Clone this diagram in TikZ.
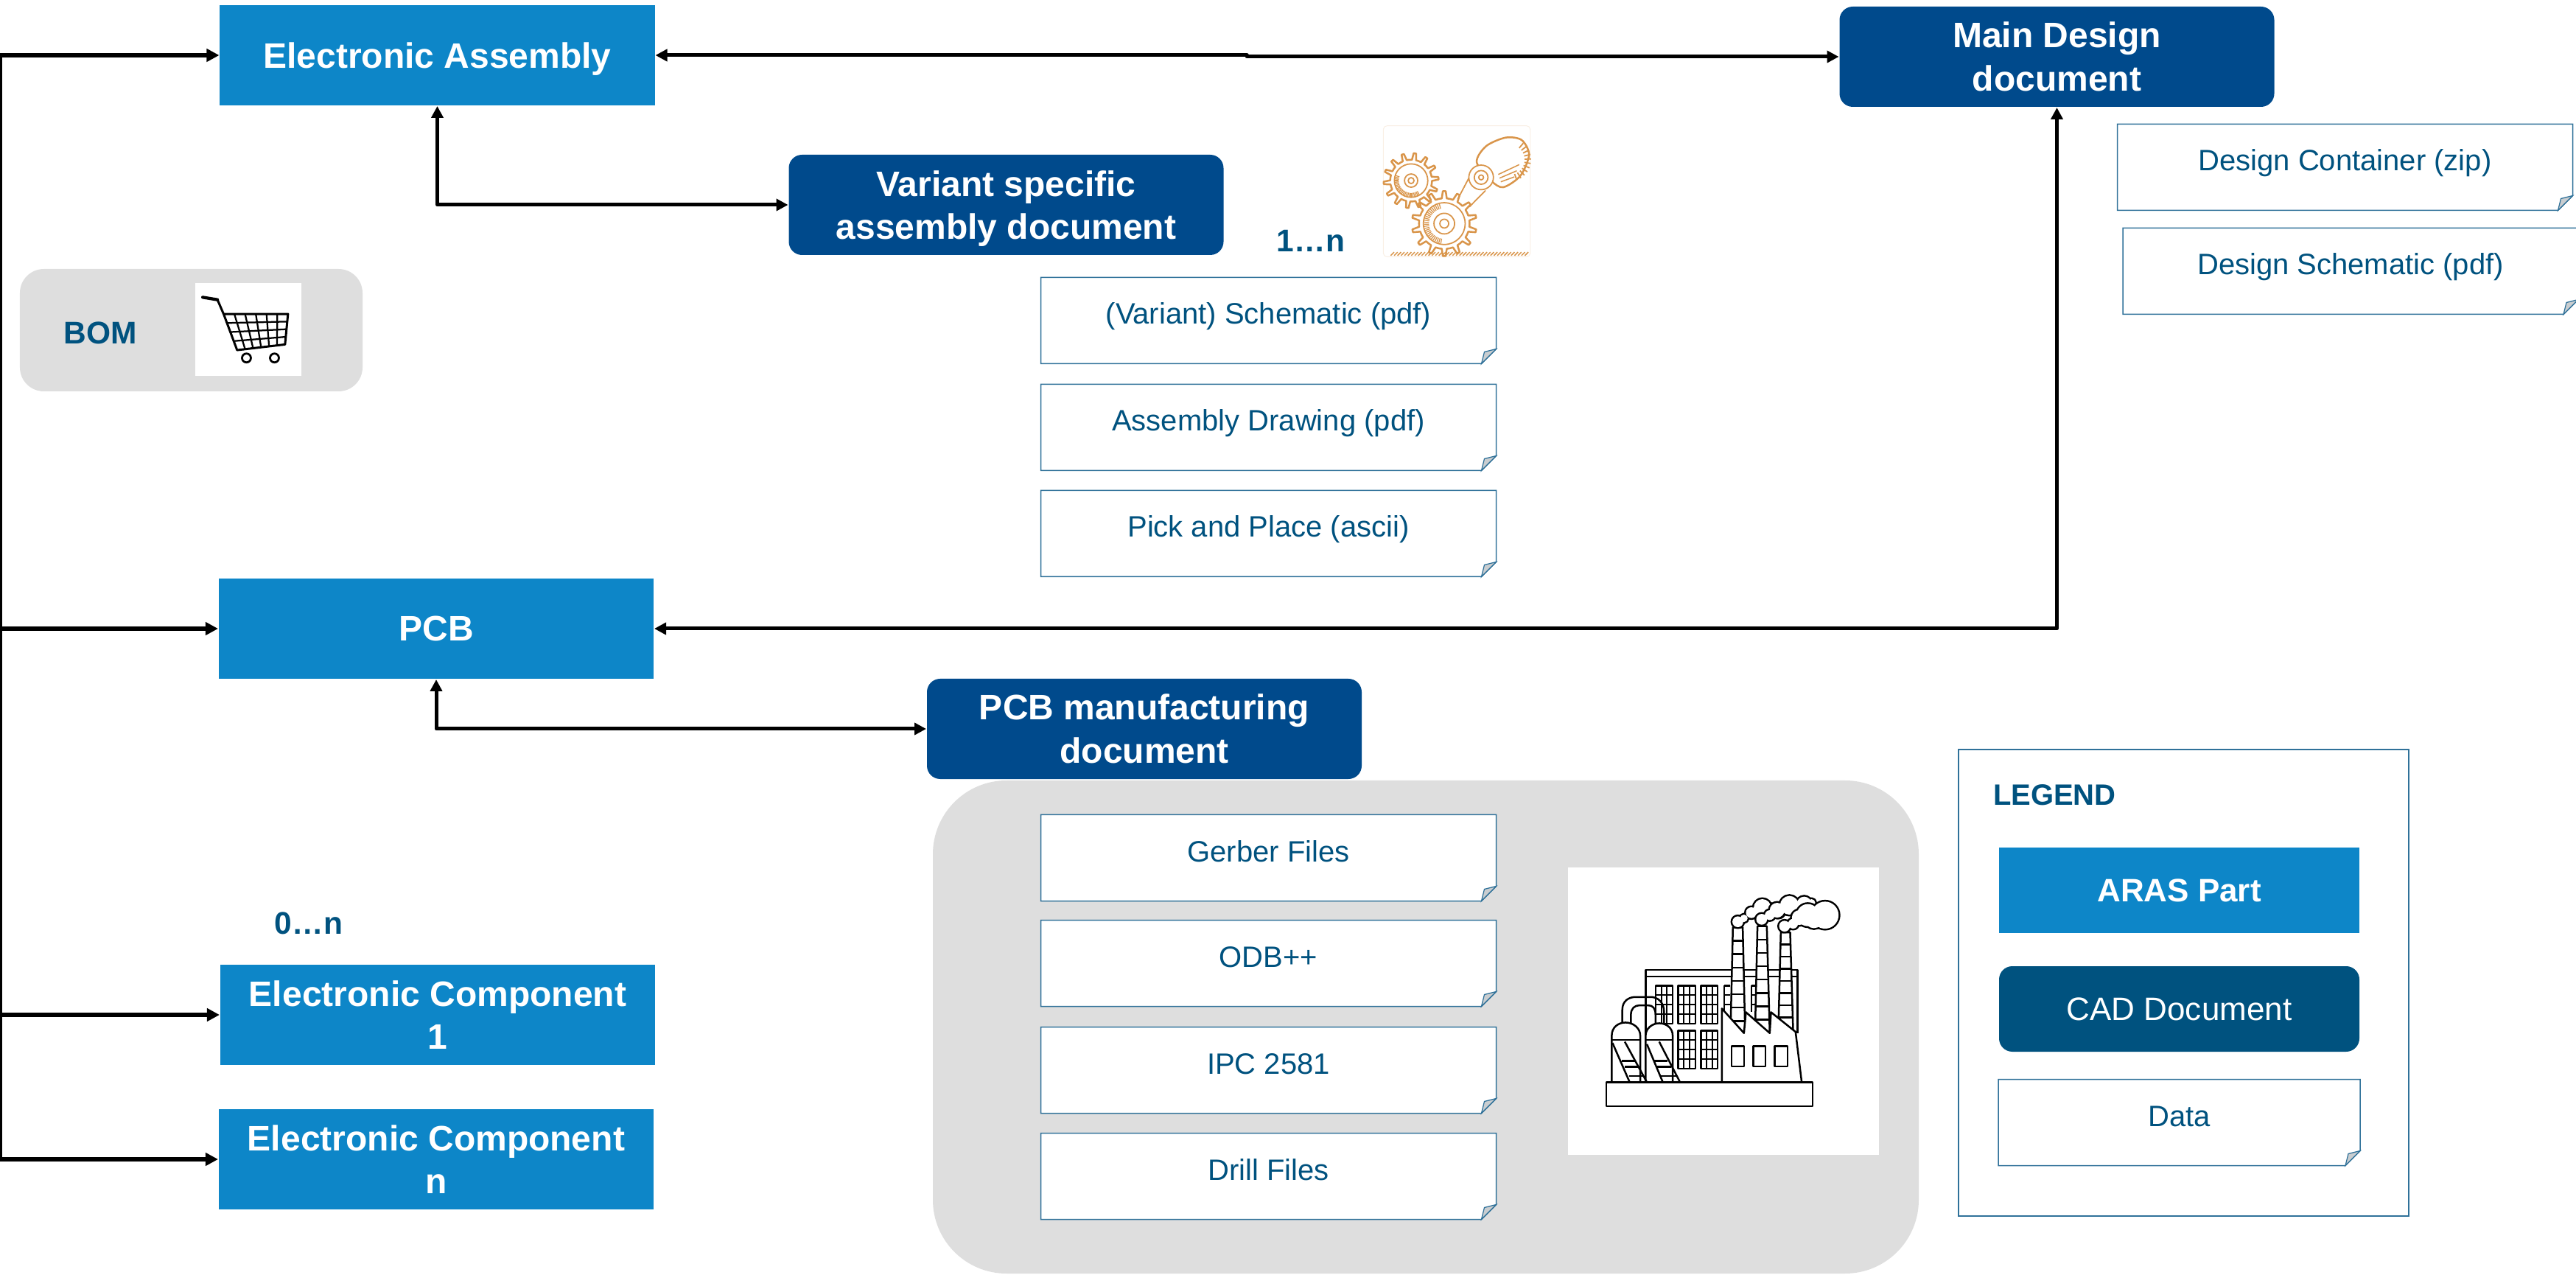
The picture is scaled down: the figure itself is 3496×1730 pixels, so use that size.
\documentclass[tikz,border=0pt]{standalone}
\usepackage{fontspec}
\setmainfont{Liberation Sans}
\usetikzlibrary{arrows.meta,calc}
\definecolor{partblue}{HTML}{0D86C8}
\definecolor{cadblue}{HTML}{004A8C}
\definecolor{legcad}{HTML}{00527F}
\definecolor{txtblue}{HTML}{00527F}
\definecolor{docline}{HTML}{2F7199}
\definecolor{panelgrey}{HTML}{DEDEDE}
\definecolor{foldgrey}{HTML}{C9CDD0}
\definecolor{gearcol}{HTML}{D9954A}
\pgfdeclarelayer{panel}\pgfdeclarelayer{back}
\pgfsetlayers{panel,back,main}
\tikzset{
  part/.style={fill=partblue,text=white,font=\fontsize{9.6}{11.7}\selectfont\bfseries,align=center,minimum width=118pt,minimum height=27.2pt,inner sep=0pt},
  cad/.style={fill=cadblue,text=white,rounded corners=3.6pt,font=\fontsize{9.6}{11.7}\selectfont\bfseries,align=center,minimum width=118pt,minimum height=27.2pt,inner sep=0pt},
  doc/.style={text=txtblue,font=\fontsize{8}{10}\selectfont,minimum width=123.2pt,minimum height=23pt,inner sep=0pt,text height=8pt,text depth=6pt},
  tag/.style={text=txtblue,font=\fontsize{8.5}{10}\selectfont\bfseries,inner sep=0pt},
  conn/.style={draw=black,line width=1pt,line join=round,{Triangle[length=3.2pt,width=3.2pt]}-{Triangle[length=3.2pt,width=3.2pt]}},
  feed/.style={draw=black,line width=1.15pt,-{Triangle[length=3.4pt,width=3.4pt]}},
  icon/.style={x=0.0667pt,y=-0.0667pt,line width=0.5pt,line join=round},
  gear/.style={draw=gearcol,line width=0.35pt},
}
\newcommand{\docbox}[5][]{%
  \node[doc,#1] (#2) at (#3,#4) {#5};
  \begin{pgfonlayer}{back}
    \filldraw[fill=white,draw=docline,line width=0.3pt] (#2.north west) -- (#2.north east) -- ([yshift=4pt]#2.south east) -- ([xshift=-4pt]#2.south east) -- (#2.south west) -- cycle;
  \end{pgfonlayer}
  \filldraw[fill=foldgrey,draw=docline,line width=0.25pt] ([yshift=4pt]#2.south east) -- ([xshift=-3.2pt,yshift=3.2pt]#2.south east) -- ([xshift=-4pt]#2.south east) -- cycle;
}
\newcommand{\gearwheel}[6]{%
  \begin{scope}[shift={(#1,#2)}]
    \draw[gear,line width=0.5pt] (#6:#4) \foreach \i in {1,...,#5}{
       -- ({#6+(\i-0.72)*360/#5}:#4) -- ({#6+(\i-0.6)*360/#5}:#3) -- ({#6+(\i-0.4)*360/#5}:#3) -- ({#6+(\i-0.28)*360/#5}:#4) -- ({#6+\i*360/#5}:#4)} -- cycle;
  \end{scope}
}
\newcommand{\cloud}[1]{%
  \foreach \cx/\cy/\cr in {#1}{\draw[line width=1pt] (\cx,\cy) circle (\cr);}
  \foreach \cx/\cy/\cr in {#1}{\fill[white] (\cx,\cy) circle (\cr);}
}
\begin{document}
\begin{tikzpicture}[x=0.2pt,y=-0.2pt]
\useasboundingbox (0,0) rectangle (3496,1730);

% panels
\begin{pgfonlayer}{panel}
  \node[fill=panelgrey,rounded corners=20pt,minimum width=267.6pt,minimum height=133.8pt,inner sep=0pt] (mfgpanel) at (1935,1393.5) {};
  \node[fill=panelgrey,rounded corners=6.5pt,minimum width=93pt,minimum height=33.2pt,inner sep=0pt] (bompanel) at (259.5,448) {};
  \node[draw=docline,line width=0.3pt,fill=white,minimum width=122.2pt,minimum height=126.6pt,inner sep=0pt] (legend) at (2963.5,1333.5) {};
\end{pgfonlayer}

% main nodes
\node[part,text height=9.2pt,text depth=2pt] (ea) at (593.5,75) {Electronic Assembly};
\node[part] (pcb) at (592,853) {PCB};
\node[part] (c1) at (594,1377) {Electronic Component\\1};
\node[part] (cn) at (592,1573) {Electronic Component\\n};
\node[cad] (md) at (2791.5,77) {Main Design\\document};
\node[cad,text height=20.8pt,text depth=2pt] (vs) at (1365.5,278) {Variant specific\\assembly document};
\node[cad] (pm) at (1553,989) {PCB manufacturing\\document};

% documents
\docbox{dv}{1721.5}{435}{(Variant) Schematic (pdf)}
\docbox{da}{1721.5}{580}{Assembly Drawing (pdf)}
\docbox{dp}{1721.5}{724}{Pick and Place (ascii)}
\docbox{dg}{1721.5}{1164}{Gerber Files}
\docbox{do}{1721.5}{1307}{ODB++}
\docbox{di}{1721.5}{1452}{IPC 2581}
\docbox{dd}{1721.5}{1596}{Drill Files}
\docbox{dc}{3182.5}{227}{Design Container (zip)}
\docbox{ds}{3190}{368}{Design Schematic (pdf)}

% tags
\node[tag] (n1) at (1779,327) {1…n};
\node[tag] (n0) at (419,1253) {0…n};
\node[tag] (bomt) at (136,452) {BOM};
\node[tag,anchor=west,font=\fontsize{8}{10}\selectfont\bfseries] (legt) at (2704,1079) {LEGEND};

% legend items
\node[part,minimum width=97.8pt,minimum height=23.2pt,font=\fontsize{8.8}{10}\selectfont\bfseries] (lp) at (2957.5,1208) {ARAS Part};
\node[cad,fill=legcad,minimum width=97.8pt,minimum height=23.2pt,font=\fontsize{8.8}{10}\selectfont] (lc) at (2957.5,1369) {CAD Document};
\docbox[minimum width=97.8pt]{ld}{2957.5}{1523}{Data}

% connectors
\coordinate (trunktop) at (0,75);
\coordinate (trunkbot) at (0,1573);
\coordinate (jog1) at (1692,75);
\coordinate (jog2) at (1692,77);
\coordinate (b1) at (0,853);
\coordinate (b2) at (0,1377);
\draw[draw=black,line width=1.15pt] (trunktop) -- (trunkbot);
\draw[feed] (trunktop) -- (ea.west);
\draw[feed] (b1) -- (pcb.west);
\draw[feed] (b2) -- (c1.west);
\draw[feed] (trunkbot) -- (cn.west);
\draw[conn] (ea.east) -- (jog1) -- (jog2) -- (md.west);
\draw[conn] (ea.south) |- (vs.west);
\draw[conn] (md.south) |- (pcb.east);
\draw[conn] (pcb.south) |- (pm.west);

% cart icon
\begin{scope}[shift={(20,350)},icon]
  \fill[white] (735,102) rectangle (1167,480);
  \draw[line width=0.85pt,line cap=round] (765,160) -- (825,170);
  \draw[line width=0.6pt] (825,170) -- (850,228) -- (905,375) -- (1100,352) -- (1112,228) -- (850,228);
  \foreach \t in {1,...,5}{\draw[line width=0.45pt] ({850+262*\t/6},228) -- ({905+195*\t/6},{375-23*\t/6});}
  \foreach \s in {1,2,3}{\draw[line width=0.45pt] ({850+55*\s/4},{228+147*\s/4}) -- ({1112-12*\s/4},{228+124*\s/4});}
  \draw[line width=0.55pt] (943,407) circle (18) (1057,407) circle (18);
\end{scope}

% gears icon
\begin{scope}[shift={(1800,130)},icon]
  \filldraw[fill=white,draw=gearcol!15,line width=0.2pt,rounded corners=1pt] (232,122) rectangle (830,655);
  \gearwheel{345}{345}{112}{85}{14}{8}
  \draw[gear] (345,345) circle (68) (345,345) circle (27) (345,345) circle (12);
  \foreach \a in {60,66,...,200}{\draw[gear,line width=0.25pt] (345,345) ++(\a:50) -- ++(\a:16);}
  \gearwheel{480}{520}{132}{103}{14}{0}
  \draw[gear] (480,520) circle (85) (480,520) circle (42) (480,520) circle (18);
  \foreach \a in {100,106,...,260}{\draw[gear,line width=0.25pt] (480,520) ++(\a:62) -- ++(\a:20);}
  % motor
  \draw[gear,line width=0.5pt,fill=white] plot[smooth cycle] coordinates {(612,270) (650,205) (730,170) (795,180) (825,240) (790,325) (720,372) (670,345)};
  \foreach \a in {-50,-38,...,70}{\draw[gear,line width=0.35pt] (745,260) ++(\a:62) -- ++(\a:26);}
  \draw[gear,line width=0.3pt] (705,335) -- (775,305) (710,350) -- (765,330) (700,320) -- (785,280);
  % belt
  \draw[gear] (535,420) -- (592,312) (582,452) -- (648,385);
  \filldraw[gear,fill=white] (630,332) circle (50);
  \draw[gear] (630,332) circle (28) (630,332) circle (10);
  % ground
  \foreach \x in {262,276,...,812}{\draw[gear,line width=0.3pt] (\x,650) -- (\x+14,636);}
\end{scope}

% factory icon
\begin{scope}[shift={(2100,1160)},icon]
  \fill[white] (85,50) rectangle (1350,1220);
  % back building
  \draw (400,925) -- (400,468) -- (1018,468) -- (1018,725);
  \draw (400,495) -- (1018,495);
  % windows
  \foreach \wx/\wy/\ww in {440/532/70,532/532/71,625/532/68,532/715/71,625/715/68}{
    \draw (\wx,\wy) rectangle ++(\ww,155);
    \foreach \k in {1,2}{\draw[line width=0.4pt] ({\wx+\ww*\k/3},\wy) -- ++(0,155);}
    \foreach \k in {1,2,3}{\draw[line width=0.4pt] (\wx,{\wy+155*\k/4}) -- ++(\ww,0);}
  }
  \draw (720,532) -- (745,532) (720,532) -- (720,640) (830,532) -- (845,532) (830,532) -- (830,640);
  \draw[line width=0.4pt] (720,570) -- (745,570) (720,610) -- (745,610) (830,570) -- (845,570) (830,610) -- (845,610);
  % chimneys
  \foreach \xa/\xb/\xc/\xd/\yt/\yb in {755/795/745/805/295/730,855/893/845/905/290/725,950/988/940/1000/315/710}{
    \filldraw[fill=white] (\xa,\yt) -- (\xc,\yb) -- (\xd,\yb) -- (\xb,\yt) -- cycle;
    \foreach \k in {1,...,7}{\draw ({\xa-(\xa-\xc)*\k/8},{\yt+(\yb-\yt)*\k/8}) -- ({\xb+(\xd-\xb)*\k/8},{\yt+(\yb-\yt)*\k/8});}
  }
  \draw (988,495) -- (1018,495);
  % smoke
  \cloud{775/272/22,800/258/15,830/235/22,875/215/35,910/225/25,940/230/25}
  \cloud{872/262/22,905/245/20,935/225/30,985/205/38,1045/200/30,1075/195/15}
  \cloud{965/290/22,1000/280/20,1025/255/30,1060/245/45,1085/260/38,1130/245/55}
  % front shed
  \filldraw[fill=white] (710,925) -- (710,625) -- (800,725) -- (808,640) -- (905,725) -- (910,640) -- (1010,720) -- (1035,925) -- cycle;
  \draw (750,778) rectangle (800,860) (838,778) rectangle (888,860) (925,778) rectangle (978,860);
  % pipe
  \draw (305,690) -- (305,630) .. controls (305,595) and (330,578) .. (360,578) -- (420,578) .. controls (450,578) and (475,600) .. (475,640) -- (475,690);
  \draw (340,690) -- (340,650) .. controls (340,625) and (355,612) .. (375,612) -- (410,612) .. controls (430,612) and (440,625) .. (440,650) -- (440,690);
  % tanks
  \filldraw[fill=white] (262,925) -- (262,735) .. controls (262,700) and (290,682) .. (318,682) .. controls (350,682) and (378,705) .. (378,735) -- (378,925) -- cycle;
  \filldraw[fill=white] (400,925) -- (400,735) .. controls (400,705) and (428,685) .. (455,685) .. controls (485,685) and (510,705) .. (510,735) -- (510,800) -- (510,925) -- cycle;
  \draw (262,752) -- (378,752) (400,752) -- (510,752);
  \draw (265,765) -- (335,925) (315,760) -- (405,925) (405,770) -- (470,925) (455,760) -- (540,925);
  \draw (303,838) -- (358,838) (316,862) -- (372,862) (332,900) -- (392,900);
  \draw (432,838) -- (490,838) (445,862) -- (503,862) (462,900) -- (525,900);
  % base
  \filldraw[fill=white] (240,925) rectangle (1080,1022);
\end{scope}
\end{tikzpicture}
\end{document}
